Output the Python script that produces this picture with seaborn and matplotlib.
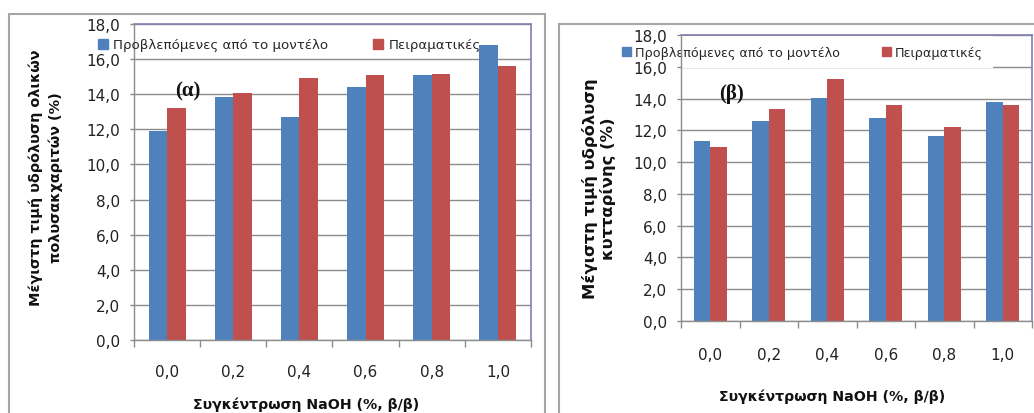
import matplotlib
matplotlib.use("Agg")
import matplotlib.pyplot as plt
from matplotlib.patches import Rectangle
from matplotlib.ticker import FuncFormatter, FixedLocator
import seaborn as sns
import pandas as pd

# NaOH concentration categories (x axis)
conc_labels = ["0,0", "0,2", "0,4", "0,6", "0,8", "1,0"]

# series names
series_names = ["Προβλεπόμενες από το μοντέλο", "Πειραματικές"]

# (α) total polysaccharide hydrolysis, %
pred_a = [11.9, 13.85, 12.7, 14.4, 15.1, 16.8]
exp_a = [13.2, 14.05, 14.95, 15.1, 15.15, 15.6]

# (β) cellulose hydrolysis, %
pred_b = [11.35, 12.6, 14.05, 12.8, 11.65, 13.8]
exp_b = [10.95, 13.35, 15.25, 13.6, 12.2, 13.6]

y_ticks = [0, 2, 4, 6, 8, 10, 12, 14, 16, 18]

BLUE = "#4F81BD"
RED = "#C0504D"
GRID = "#8C8C8C"
FRAME = "#7F7FB2"

sns.set_theme(style="white")
plt.rcParams["font.family"] = ["DejaVu Sans"]

W, H = 1034, 414
fig = plt.figure(figsize=(W / 100, H / 100), dpi=100)


def px_axes(x0, y0, x1, y1):
    return fig.add_axes([x0 / W, 1 - y1 / H, (x1 - x0) / W, (y1 - y0) / H])


def long_frame(pred, exp):
    return pd.DataFrame({
        "conc": conc_labels * 2,
        "value": list(pred) + list(exp),
        "series": [series_names[0]] * len(pred) + [series_names[1]] * len(exp),
    })


comma = FuncFormatter(lambda v, _: f"{v:.1f}".replace(".", ","))


def draw_panel(ax, pred, exp, xpad, tick_fs):
    sns.barplot(data=long_frame(pred, exp), x="conc", y="value", hue="series",
                palette=[BLUE, RED], saturation=1, width=0.56, errorbar=None,
                order=conc_labels, hue_order=series_names, ax=ax, legend=False,
                linewidth=0, edgecolor="none", zorder=1)
    ax.set_xlim(-0.5, len(conc_labels) - 0.5)
    ax.set_ylim(0, 18)
    ax.set_yticks(y_ticks)
    ax.yaxis.set_major_formatter(comma)
    ax.grid(False)
    ax.set_axisbelow(False)
    # horizontal gridlines kept underneath the bars
    for t in y_ticks:
        ax.axhline(t, color=GRID, linewidth=1.0, zorder=0.5)
    ax.set_xlabel("")
    ax.set_ylabel("")
    for side in ("left", "bottom"):
        ax.spines[side].set_color(GRID)
        ax.spines[side].set_linewidth(1.0)
    for side in ("top", "right"):
        ax.spines[side].set_color(FRAME)
        ax.spines[side].set_linewidth(1.2)
    # boundary tick marks between categories
    ax.xaxis.set_minor_locator(FixedLocator([i - 0.5 for i in range(len(conc_labels) + 1)]))
    ax.tick_params(axis="x", which="minor", bottom=True, length=5, width=1, color=GRID)
    ax.tick_params(axis="x", which="major", bottom=True, length=0, pad=xpad,
                   labelsize=tick_fs, labelcolor="#222222")
    ax.tick_params(axis="y", which="major", left=True, length=3, width=1, color=GRID,
                   pad=7, labelsize=tick_fs, labelcolor="#222222")


# outer chart frames
fig.patches.append(Rectangle((9 / W, -0.1), (545 - 9) / W, (H - 15) / H + 0.1,
                             transform=fig.transFigure, fill=False,
                             edgecolor="#A6A6A6", linewidth=1.5))
fig.patches.append(Rectangle((559 / W, -0.1), 0.6, (H - 25) / H + 0.1,
                             transform=fig.transFigure, fill=False,
                             edgecolor="#A6A6A6", linewidth=1.5))

# ---- panel (α)
ax1 = px_axes(134, 25, 531, 341)
draw_panel(ax1, pred_a, exp_a, xpad=17, tick_fs=11)
h1 = [Rectangle((0, 0), 1, 1, color=BLUE), Rectangle((0, 0), 1, 1, color=RED)]
ax1.legend(h1, series_names, ncol=2, loc="center left",
           bbox_to_anchor=(98 / W, 1 - 46 / H), bbox_transform=fig.transFigure,
           frameon=False, fontsize=9.6, borderpad=0, borderaxespad=0,
           handlelength=0.75, handleheight=0.75, handletextpad=0.4,
           columnspacing=3.35)
ax1.text(0.135, 0.79, "(α)", transform=ax1.transAxes, ha="center", va="center",
         fontsize=15, fontweight="bold", family="Liberation Serif", color="#111111")
fig.text(46 / W, 1 - 178 / H, "Μέγιστη τιμή υδρόλυση ολικών\nπολυσακχαριτών (%)",
         rotation=90, ha="center", va="center", multialignment="center",
         fontsize=10.4, fontweight="bold", linespacing=1.5, color="#111111")
fig.text(306 / W, 1 - 405 / H, "Συγκέντρωση NaOH (%, β/β)", ha="center", va="center",
         fontsize=10.2, fontweight="bold", color="#111111")

# ---- panel (β)
ax2 = px_axes(681, 36, 1032, 322)
draw_panel(ax2, pred_b, exp_b, xpad=19, tick_fs=11)
ax2.spines["top"].set_zorder(1.5)
leg2 = ax2.legend(h1, series_names, ncol=2, loc="center left",
                  bbox_to_anchor=(612 / W, 1 - 53 / H), bbox_transform=fig.transFigure,
                  frameon=True, facecolor="white", edgecolor="none", framealpha=1,
                  fancybox=False, fontsize=9.2, borderpad=0.78, borderaxespad=0,
                  handlelength=0.7, handleheight=0.7, handletextpad=0.3,
                  columnspacing=3.3)
leg2.set_zorder(2)
ax2.text(0.1425, 0.797, "(β)", transform=ax2.transAxes, ha="center", va="center",
         fontsize=15, fontweight="bold", family="Liberation Serif", color="#111111")
fig.text(599 / W, 1 - 189 / H, "Μέγιστη τιμή υδρόλυση\nκυτταρίνης (%)",
         rotation=90, ha="center", va="center", multialignment="center",
         fontsize=11.8, fontweight="bold", linespacing=1.15, color="#111111")
fig.text(832 / W, 1 - 397 / H, "Συγκέντρωση NaOH (%, β/β)", ha="center", va="center",
         fontsize=10.2, fontweight="bold", color="#111111")

fig.savefig("out.png", dpi=100, facecolor="white")
